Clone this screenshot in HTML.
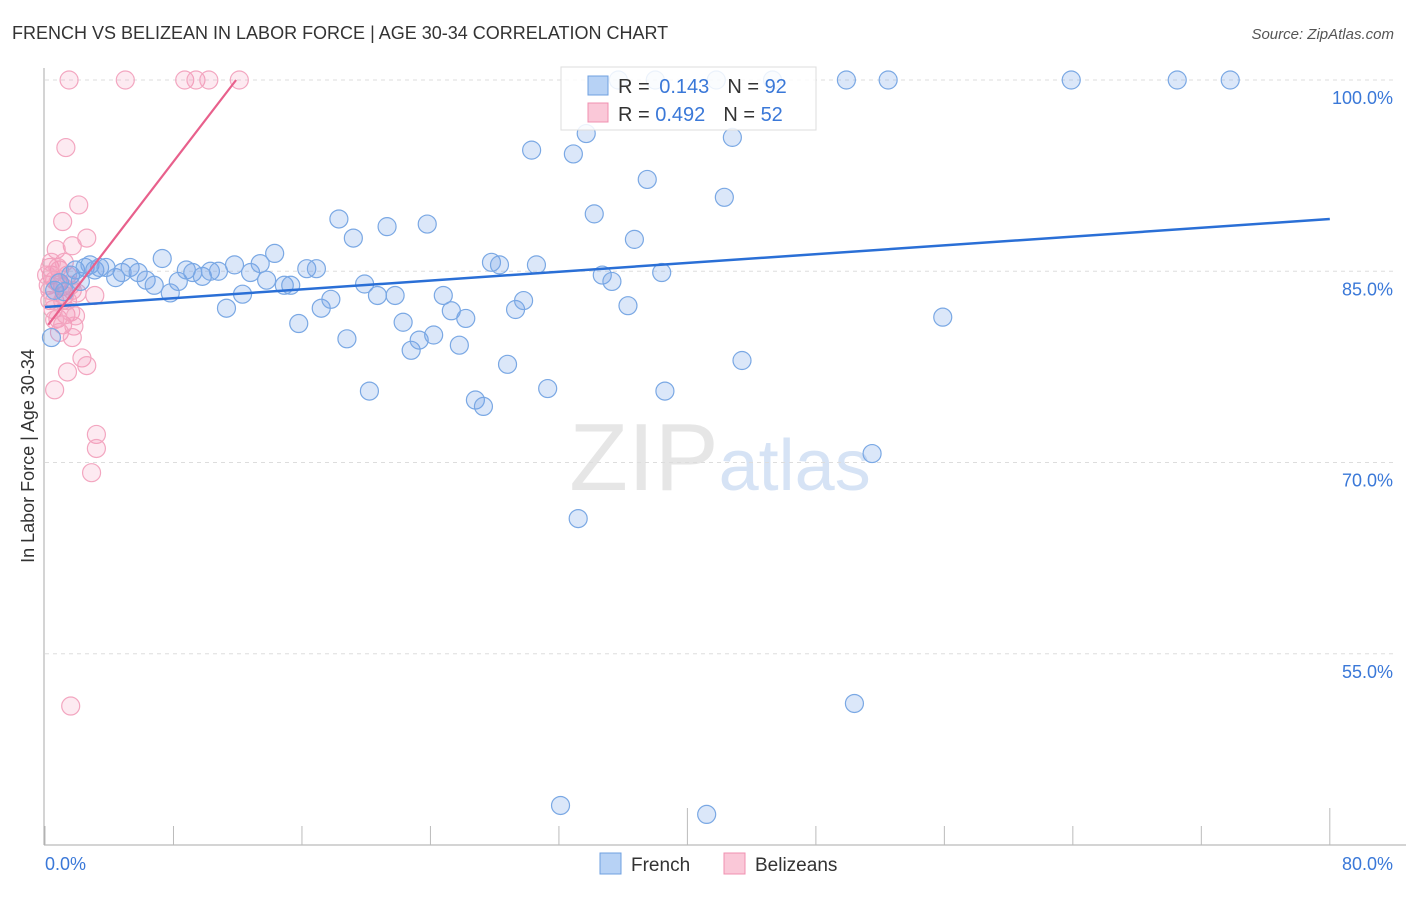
<!DOCTYPE html>
<html><head><meta charset="utf-8"><style>
body{margin:0;background:#fff;font-family:"Liberation Sans",sans-serif;}
svg text{font-family:"Liberation Sans",sans-serif;}
</style></head><body>
<svg id="chart" width="1406" height="892" xmlns="http://www.w3.org/2000/svg">
<text x="12" y="39" font-size="18" fill="#333">FRENCH VS BELIZEAN IN LABOR FORCE | AGE 30-34 CORRELATION CHART</text>
<text x="1394" y="39" font-size="15" fill="#555" text-anchor="end" font-style="italic">Source: ZipAtlas.com</text>
<text x="720" y="490" font-size="96" text-anchor="middle" fill="#e6e6e6" font-family="Liberation Serif">ZIP<tspan fill="#d6e3f5" font-family="Liberation Sans" font-size="72">atlas</tspan></text>
<text transform="translate(34,456) rotate(-90)" font-size="18" fill="#333" text-anchor="middle">In Labor Force | Age 30-34</text>
<g id="grid"></g><g id="axes"></g><g id="pinkpts"></g><g id="bluepts"></g><g id="lines"></g>
<g>
<rect x="561" y="67" width="255" height="63" fill="#fff" fill-opacity="0.85" stroke="#ddd"/>
<rect x="588" y="76" width="20" height="19" fill="#b7d2f5" stroke="#6fa0e0"/>
<rect x="588" y="103" width="20" height="19" fill="#fac8d8" stroke="#f090b0"/>
<text x="618" y="93" font-size="20" fill="#333">R = <tspan fill="#3a78d8" dx="4">0.143</tspan><tspan dx="18" fill="#333">N = </tspan><tspan fill="#3a78d8">92</tspan></text>
<text x="618" y="121" font-size="20" fill="#333">R = <tspan fill="#3a78d8">0.492</tspan><tspan dx="18" fill="#333">N = </tspan><tspan fill="#3a78d8">52</tspan></text>
</g>
<g>
<rect x="600" y="853" width="21" height="21" fill="#b7d2f5" stroke="#6fa0e0"/>
<text x="631" y="871" font-size="19" fill="#333">French</text>
<rect x="724" y="853" width="21" height="21" fill="#fac8d8" stroke="#f090b0"/>
<text x="755" y="871" font-size="19" fill="#333">Belizeans</text>
</g>
</svg>
<script>
const yTicks=[100,85,70,55];
const yTickLabels=["100.0%","85.0%","70.0%","55.0%"];
const xTicks=[0,8,16,24,32,40,48,56,64,72,80];
const frenchX=[0.4,0.6,0.9,1.2,1.6,1.9,2.2,2.5,2.8,3.1,3.4,3.8,4.4,4.8,5.3,5.8,6.3,6.8,7.3,7.8,8.3,8.8,9.2,9.8,10.3,10.8,11.3,11.8,12.3,12.8,13.4,13.8,14.3,14.9,15.3,15.8,16.3,16.9,17.2,17.8,18.3,18.8,19.2,19.9,20.2,20.7,21.3,21.8,22.3,22.8,23.3,23.8,24.2,24.8,25.3,25.8,26.2,26.8,27.3,27.8,28.3,28.8,29.3,29.8,30.3,30.6,31.3,32.1,32.9,33.2,33.7,34.2,34.7,35.3,35.7,36.3,36.7,37.5,38.0,38.4,38.6,41.2,41.8,42.3,42.8,43.4,45.3,49.9,50.4,51.5,52.5,55.9,63.9,70.5,73.8];
const frenchY=[79.8,83.5,84.1,83.4,84.7,85.1,84.2,85.3,85.5,85.1,85.3,85.3,84.5,84.9,85.3,84.9,84.3,83.9,86.0,83.3,84.2,85.1,84.9,84.6,85.0,85.0,82.1,85.5,83.2,84.9,85.6,84.3,86.4,83.9,83.9,80.9,85.2,85.2,82.1,82.8,89.1,79.7,87.6,84.0,75.6,83.1,88.5,83.1,81.0,78.8,79.6,88.7,80.0,83.1,81.9,79.2,81.3,74.9,74.4,85.7,85.5,77.7,82.0,82.7,94.5,85.5,75.8,43.1,94.2,65.6,95.8,89.5,84.7,84.2,100,82.3,87.5,92.2,100,84.9,75.6,42.4,100,90.8,95.5,78.0,100,100,51.1,70.7,100,81.4,100,100,100];
const belizeX=[1.5,5.0,8.7,9.4,10.2,12.1,1.3,2.1,1.1,2.6,1.7,0.7,0.3,0.4,0.6,0.8,0.9,1.1,1.2,1.4,1.6,1.7,0.3,0.5,0.8,1.1,1.3,1.6,1.8,1.9,0.9,1.7,3.1,2.3,2.6,1.4,0.6,3.2,3.2,2.9,1.6,0.2,0.3,0.6,1.1,1.4,0.8,1.2,0.1,0.4,2.0,0.6];
const belizeY=[100,100,100,100,100,100,94.7,90.2,88.9,87.6,87.0,86.7,85.3,84.7,84.3,84.1,85.1,83.8,83.1,84.7,83.9,83.5,82.7,82.0,81.3,80.8,81.6,81.8,80.7,81.5,80.2,79.8,83.1,78.2,77.6,77.1,75.7,72.2,71.1,69.2,50.9,83.9,83.5,82.7,82.7,82.7,85.3,85.7,84.7,85.7,83.3,81.2];
const frenchTrend=[[0,82.2],[80,89.1]];
const belizeTrend=[[0.2,80.8],[11.9,100]];
const NS="http://www.w3.org/2000/svg";
const xS=v=>45+v*16.06;
const yS=v=>80+(100-v)*12.75;
function mk(tag,parent,attrs){const e=document.createElementNS(NS,tag);for(const k in attrs)e.setAttribute(k,attrs[k]);document.getElementById(parent).appendChild(e);return e;}
yTicks.forEach((t,i)=>{
  const l=mk('line','grid',{x1:45,x2:1393,y1:yS(t),y2:yS(t),stroke:'#ddd','stroke-dasharray':'4,4'});
  
  
  const tx=mk('text','grid',{x:1393,y:yS(t)+24,'font-size':18,fill:'#3a78d8','text-anchor':'end'});
  tx.textContent=yTickLabels[i];
  
  
});
const ax=mk('line','axes',{x1:44,x2:44,y1:68,y2:845,stroke:'#aaa'});


const bx=mk('line','axes',{x1:44,x2:1406,y1:845,y2:845,stroke:'#aaa'});


xTicks.forEach((t,i)=>{
  const tall=(t===40||t===80);
  const l=mk('line','axes',{x1:xS(t),x2:xS(t),y1:tall?808:826,y2:845,stroke:'#bbb'});
  
  
});
const xl0=mk('text','axes',{x:45,y:870,'font-size':18,fill:'#3a78d8'});xl0.textContent=xTicks[0].toFixed(1)+'%';


const xl1=mk('text','axes',{x:1393,y:870,'font-size':18,fill:'#3a78d8','text-anchor':'end'});xl1.textContent=xTicks[xTicks.length-1].toFixed(1)+'%';


belizeX.forEach((x,i)=>{
  const c=mk('circle','pinkpts',{cx:xS(x),cy:yS(belizeY[i]),r:9,fill:'rgba(242,140,175,0.18)',stroke:'#f3a6c0','stroke-width':1.2});
  
  
});
frenchX.forEach((x,i)=>{
  const c=mk('circle','bluepts',{cx:xS(x),cy:yS(frenchY[i]),r:9,fill:'rgba(110,160,230,0.25)',stroke:'#7aa8e4','stroke-width':1.2});
  
  
});
const fl=mk('line','lines',{x1:xS(frenchTrend[0][0]),y1:yS(frenchTrend[0][1]),x2:xS(frenchTrend[1][0]),y2:yS(frenchTrend[1][1]),stroke:'#2a6fd6','stroke-width':2.5});


const pl=mk('line','lines',{x1:xS(belizeTrend[0][0]),y1:yS(belizeTrend[0][1]),x2:xS(belizeTrend[1][0]),y2:yS(belizeTrend[1][1]),stroke:'#e8608c','stroke-width':2.2});


</script>
</body></html>
